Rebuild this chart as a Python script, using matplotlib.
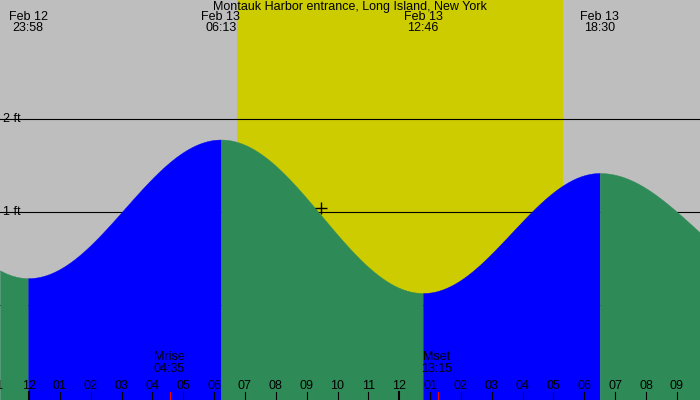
import numpy as np
import matplotlib
matplotlib.use("Agg")
import matplotlib.pyplot as plt

plt.rcParams['font.family'] = ['Liberation Sans', 'DejaVu Sans']

# extremes (hours from Feb 13 00:00, ft)
ext_t = [-6.25, -0.03, 6.22, 12.77, 18.5, 24.7]
ext_h = [1.9, 0.29, 1.78, 0.13, 1.42, 0.23]
sun_rise, sun_set = 6.74, 17.3
moon_rise, moon_set = 4.58, 13.25
hour_labels = ["1", "12", "01", "02", "03", "04", "05", "06", "07", "08", "09", "10", "11", "12",
               "01", "02", "03", "04", "05", "06", "07", "08", "09"]
top_labels = [("Feb 12\n23:58", -0.03), ("Feb 13\n06:13", 6.22), ("Feb 13\n12:46", 12.77), ("Feb 13\n18:30", 18.5)]

x0, x1 = -0.94, 21.75
t = np.linspace(x0, x1, 3000)
h = np.zeros_like(t)
rising = np.zeros_like(t, dtype=bool)
for i in range(len(ext_t) - 1):
    m = (t >= ext_t[i]) & (t <= ext_t[i + 1])
    f = (t[m] - ext_t[i]) / (ext_t[i + 1] - ext_t[i])
    h[m] = ext_h[i] + (ext_h[i + 1] - ext_h[i]) * (1 - np.cos(np.pi * f)) / 2
    rising[m] = ext_h[i + 1] > ext_h[i]

fig = plt.figure(figsize=(7, 4), dpi=100)
ax = fig.add_axes([0, 0, 1, 1])
ax.set_xlim(x0, x1)
ax.set_ylim(-1.02, 3.28)
ax.axvspan(x0, x1, color="#bebebe", zorder=0, lw=0)
ax.axvspan(sun_rise, sun_set, color="#cccc00", zorder=0, lw=0)
for y in [0, 1, 2]:
    ax.axhline(y, color="black", lw=0.8, zorder=1)
    ax.text(x0 + 0.1, y, f"{y} ft", fontsize=9, ha="left", va="center", zorder=1)
# segment fills with boundaries at extremes
bounds = [x0] + [e for e in ext_t if x0 < e < x1] + [x1]
for a, b in zip(bounds[:-1], bounds[1:]):
    m = (t >= a - 1e-9) & (t <= b + 1e-9)
    mid = (a + b) / 2
    r = rising[np.argmin(np.abs(t - mid))]
    ax.fill_between(t[m], -2, h[m], color="#0000ff" if r else "#2e8b57", lw=0.3,
                    edgecolor="#0000ff" if r else "#2e8b57", zorder=2)
ax.plot([9.47], [1.04], marker="+", color="black", ms=8, zorder=4)

for i, lab in enumerate(hour_labels):
    hr = i - 1
    ax.text(hr, -0.87, lab, fontsize=9, ha="center", va="center", zorder=5)
    ax.plot([hr, hr], [-1.02, -0.93], color="black", lw=1.5 if hr % 12 == 0 else 0.8, zorder=5)
for mt in [moon_rise, moon_set]:
    ax.plot([mt, mt], [-1.02, -0.93], color="red", lw=0.8, zorder=5)
ax.text(moon_rise - 0.03, -0.62, "Mrise\n04:35", fontsize=9, ha="center", va="center", linespacing=0.95, zorder=5)
ax.text(moon_set - 0.03, -0.62, "Mset\n13:15", fontsize=9, ha="center", va="center", linespacing=0.95, zorder=5)

ax.text((x0 + x1) / 2, 3.2, "Montauk Harbor entrance, Long Island, New York", fontsize=9, ha="center", va="center", zorder=5)
for lab, tt in top_labels:
    ax.text(tt, 3.04, lab, fontsize=9, ha="center", va="center", linespacing=0.95, zorder=5)
ax.axis("off")
fig.savefig("out.png", dpi=100)
